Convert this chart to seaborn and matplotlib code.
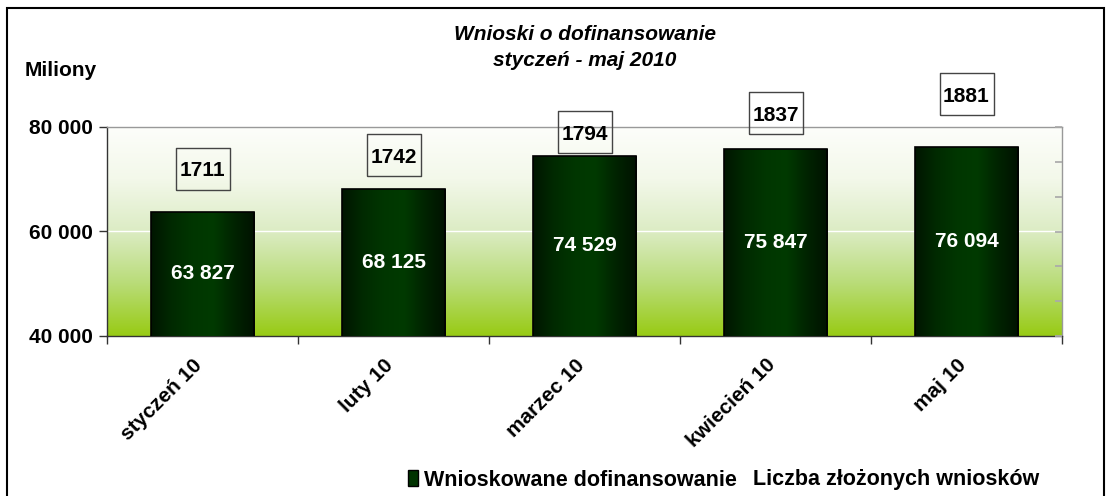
import numpy as np
import pandas as pd
import seaborn as sns
import matplotlib.pyplot as plt
from matplotlib.colors import LinearSegmentedColormap
from matplotlib.lines import Line2D
from matplotlib.patches import Patch, Rectangle
from matplotlib.ticker import LinearLocator, FixedLocator
from matplotlib.transforms import ScaledTranslation

# dane z wykresu
miesiace = ['styczeń 10', 'luty 10', 'marzec 10', 'kwiecień 10', 'maj 10']
dofinansowanie = [63827, 68125, 74529, 75847, 76094]   # miliony
liczba_wnioskow = [1711, 1742, 1794, 1837, 1881]
y_ticks = [40000, 60000, 80000]

sns.set_theme(style='white')
plt.rcParams['font.family'] = ['Liberation Sans', 'DejaVu Sans']
plt.rcParams['text.color'] = 'black'
plt.rcParams['xtick.color'] = 'black'
plt.rcParams['ytick.color'] = 'black'

FS = 15

df = pd.DataFrame({'miesiac': miesiace, 'kwota': dofinansowanie, 'liczba': liczba_wnioskow})

W, H = 1111, 496
fig = plt.figure(figsize=(W / 100, H / 100), dpi=100)
fig.patch.set_facecolor('white')
ax = fig.add_axes([107 / W, 1 - 336 / H, (1062 - 107) / W, (336 - 127) / H])

# słupki
sns.barplot(data=df, x='miesiac', y='kwota', ax=ax, width=0.54, color='#003300',
            edgecolor='black', linewidth=1.2, zorder=3)

ymin, ymax = y_ticks[0], y_ticks[-1]

# tło z gradientem
tlo = LinearSegmentedColormap.from_list('tlo', ['#98cb14', '#b9dc78', '#dcecc4', '#f3f8ea', '#fdfefb'])
ax.imshow(np.linspace(0, 1, 256).reshape(-1, 1), cmap=tlo, aspect='auto', origin='lower',
          extent=[0, 1, 0, 1], transform=ax.transAxes, zorder=0)
ax.axhline(60000, color='white', lw=1, zorder=1)

# gradient na słupkach
slupek = LinearSegmentedColormap.from_list('slupek', ['#001500', '#002a00', '#003600', '#003a00', '#002400', '#001200'])
for p in ax.patches:
    x0 = p.get_x()
    im = ax.imshow(np.linspace(0, 1, 128).reshape(1, -1), cmap=slupek, aspect='auto',
                   extent=[x0, x0 + p.get_width(), ymin, p.get_y() + p.get_height()], zorder=3.5)
    im.set_clip_path(p)
    p.set_facecolor('none')
    p.set_zorder(4)

ax.set_xlim(-0.5, len(miesiace) - 0.5)
ax.set_ylim(ymin, ymax)

for i, v in enumerate(dofinansowanie):
    ax.text(i, (ymin + v) / 2, f'{v:,}'.replace(',', ' '), color='white', fontweight='bold',
            fontsize=FS, ha='center', va='center', zorder=5)

# oś Y
ax.yaxis.set_major_locator(FixedLocator(y_ticks))
ax.set_yticklabels([f'{t:,}'.replace(',', ' ') for t in y_ticks], fontweight='bold', fontsize=FS)
ax.tick_params(axis='y', direction='out', length=6, width=1, color='#333333', left=True, pad=4)

# oś X: kreski między kategoriami, etykiety w środku
ax.xaxis.set_major_locator(FixedLocator(np.arange(-0.5, len(miesiace))))
ax.xaxis.set_minor_locator(FixedLocator(np.arange(len(miesiace))))
ax.set_xticklabels([], minor=False)
ax.set_xticklabels(miesiace, minor=True, rotation=45, ha='right', rotation_mode='anchor',
                   fontweight='bold', fontsize=FS)
ax.tick_params(axis='x', which='major', direction='out', length=6, width=1, color='#333333', bottom=True)
ax.tick_params(axis='x', which='minor', length=0, pad=14)
przesun = ScaledTranslation(-10 / 100, 0, fig.dpi_scale_trans)
for lab in ax.get_xticklabels(minor=True):
    lab.set_transform(lab.get_transform() + przesun)
ax.set_xlabel('')
ax.set_ylabel('')

for s in ['left', 'bottom']:
    ax.spines[s].set_color('#333333')
    ax.spines[s].set_linewidth(1)
for s in ['top', 'right']:
    ax.spines[s].set_color('#999999')
    ax.spines[s].set_linewidth(1)

# druga oś - liczba wniosków
ax2 = ax.twinx()
sns.lineplot(x=np.arange(len(liczba_wnioskow)), y=liczba_wnioskow, ax=ax2, alpha=0)
ax2.set_ylim(1330, 1806)
ax2.yaxis.set_major_locator(LinearLocator(7))
ax2.tick_params(axis='y', direction='in', length=5, color='#aaaaaa', right=True, labelright=False)
ax2.set_ylabel('')
for s in ax2.spines.values():
    s.set_visible(False)

ramka = [(-27, -21), (27, -21), (27, 21), (-27, 21), (-27, -21)]
ax2.plot(np.arange(len(liczba_wnioskow)), liczba_wnioskow, ls='none', marker=ramka, ms=39,
         mfc='none', mec='#444444', mew=1, clip_on=False, zorder=6)
for i, v in enumerate(liczba_wnioskow):
    ax2.text(i, v, str(v), ha='center', va='center_baseline', fontweight='bold', fontsize=FS,
             zorder=6, clip_on=False)

# teksty
fig.text(25 / W, 1 - 70 / H, 'Miliony', fontweight='bold', fontsize=FS, va='center')
fig.text(584.5 / W, 1 - 35 / H, 'Wnioski o dofinansowanie', fontweight='bold', fontstyle='italic',
         fontsize=FS, ha='center', va='center')
fig.text(584.5 / W, 1 - 60 / H, 'styczeń - maj 2010', fontweight='bold', fontstyle='italic',
         fontsize=FS, ha='center', va='center')

# legenda
uchwyty = [Patch(facecolor='#003300', edgecolor='black'), Line2D([], [], color='none')]
fig.legend(uchwyty, ['Wnioskowane dofinansowanie', 'Liczba złożonych wniosków'],
           loc='center', bbox_to_anchor=(724 / W, 1 - 480 / H), ncol=2, frameon=False,
           prop={'weight': 'bold', 'size': 15.5}, handlelength=0.45, handleheight=0.75,
           handletextpad=0.3, columnspacing=0.0)

# ramka wykresu
fig.patches.append(Rectangle((7 / W, -0.05), (1104 - 7) / W, 1 - 8 / H + 0.05,
                             transform=fig.transFigure, fill=False, ec='black', lw=1.5))

fig.savefig('out.png', dpi=100)
